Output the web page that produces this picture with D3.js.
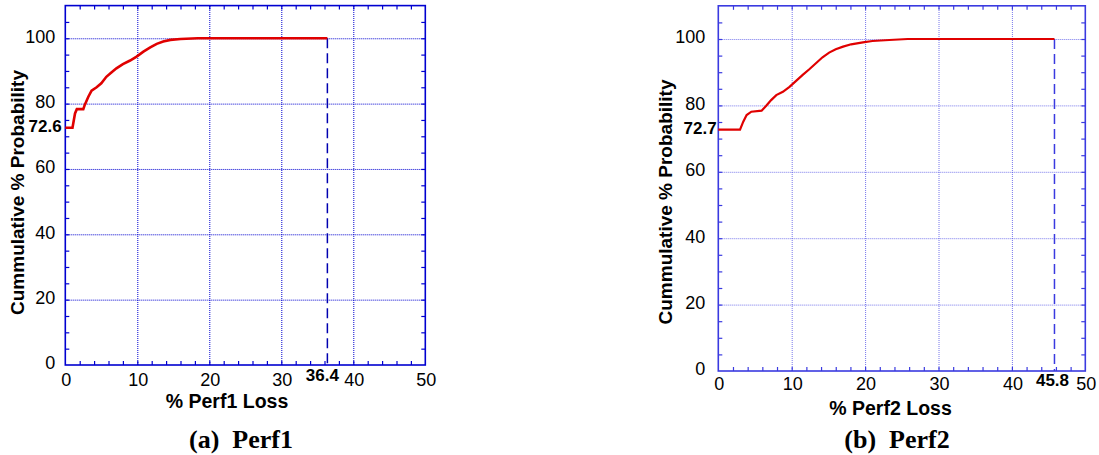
<!DOCTYPE html>
<html>
<head>
<meta charset="utf-8">
<script src="https://cdn.jsdelivr.net/npm/d3@7"></script>
<style>
  html, body { margin: 0; padding: 0; background: #fff; }
  svg { display: block; }
  text { font-family: "Liberation Sans", Arial, sans-serif; fill: #000; }
</style>
</head>
<body>
<svg id="chart" width="1099" height="455"></svg>
<script>
// ---- Data ----
const perf1Loss = [0, 1.0, 1.35, 1.6, 2.5, 2.7, 3.2, 3.65, 4.35, 5.0, 5.7, 6.4, 7.1, 8.0, 9.0, 9.9, 10.85, 11.8, 12.7, 13.6, 14.6, 16.0, 18.4, 36.4];
const perf1Prob = [72.6, 72.6, 77.0, 78.3, 78.3, 79.6, 82.1, 84.0, 85.0, 86.2, 88.2, 89.5, 90.8, 92.1, 93.2, 94.4, 95.9, 97.2, 98.3, 99.0, 99.5, 99.8, 100, 100];
const perf2Loss = [0, 2.96, 3.4, 3.86, 4.5, 5.9, 6.5, 7.2, 7.9, 8.8, 9.7, 10.6, 11.5, 12.4, 13.3, 14.2, 15.1, 16.0, 17.0, 18.1, 19.7, 21.0, 23.3, 25.8, 45.8];
const perf2Prob = [72.7, 72.7, 75.1, 77.1, 78.1, 78.4, 79.8, 81.6, 83.1, 84.1, 85.6, 87.4, 89.2, 90.9, 92.7, 94.5, 95.9, 96.9, 97.7, 98.4, 99.0, 99.4, 99.7, 100, 100];
const xTicks = [0, 10, 20, 30, 40, 50];
const yTicks = [0, 20, 40, 60, 80, 100];
const xMinorTicks = d3.range(2, 50, 2);
const yMinorTicks = d3.range(5, 110, 5);
const startValues = [72.6, 72.7];
const maxLoss = [36.4, 45.8];
const xTitles = ["% Perf1 Loss", "% Perf2 Loss"];
const yTitle = "Cummulative % Probability";
const captions = ["(a)  Perf1", "(b)  Perf2"];

const svg = d3.select("#chart");

const panels = [
  { loss: perf1Loss, prob: perf1Prob, start: startValues[0], max: maxLoss[0],
    xTitle: xTitles[0], caption: captions[0],
    x0: 65.3, x1: 425.3, y0: 365, y1: 5.6,
    axisColor: "#0000d0", gridColor: "#0000d0", gridOpacity: 1, dashColor: "#0000b0",
    lineW: 2.6, yLabGap: 10, startGap: 3.6, xLabBase: 385.5, maxLabBase: 381, maxLabShift: -5,
    xTitleX: 227, xTitleBase: 408, yTitleX: 17.5, yTitleY: 192.5, capX: 241, capBase: 448 },
  { loss: perf2Loss, prob: perf2Prob, start: startValues[1], max: maxLoss[1],
    xTitle: xTitles[1], caption: captions[1],
    x0: 718.3, x1: 1085.3, y0: 371, y1: 5.8,
    axisColor: "#3a3ae0", gridColor: "#4a4ae6", gridOpacity: 0.75, dashColor: "#3a3ae0",
    lineW: 2.2, yLabGap: 13, startGap: 1.6, xLabBase: 390, maxLabBase: 386, maxLabShift: -2,
    xTitleX: 890.5, xTitleBase: 415, yTitleX: 665, yTitleY: 202, capX: 897, capBase: 448 }
];

panels.forEach(p => {
  const x = d3.scaleLinear().domain([0, 50]).range([p.x0, p.x1]);
  const y = d3.scaleLinear().domain([0, 110]).range([p.y0, p.y1]);
  const g = svg.append("g");
  const W = p.x1 - p.x0, H = p.y0 - p.y1;

  // grid lines (dotted)
  const gx = g.append("g").attr("transform", `translate(0,${p.y0})`)
    .call(d3.axisBottom(x).tickValues(xTicks.slice(1, -1)).tickSize(-H).tickFormat(""));
  const gy = g.append("g").attr("transform", `translate(${p.x0},0)`)
    .call(d3.axisLeft(y).tickValues(yTicks.slice(1)).tickSize(-W).tickFormat(""));
  [gx, gy].forEach(a => {
    a.select(".domain").remove();
    a.selectAll("line").attr("stroke", p.gridColor).attr("stroke-width", 1)
      .attr("stroke-dasharray", "1,1").attr("opacity", p.gridOpacity);
  });

  // minor inward ticks on all four sides
  const tickStyle = a => {
    a.select(".domain").remove();
    a.selectAll("line").attr("stroke", p.axisColor).attr("stroke-width", 1.2);
  };
  g.append("g").attr("transform", `translate(0,${p.y0})`)
    .call(d3.axisBottom(x).tickValues(xMinorTicks).tickSize(-4).tickFormat("")).call(tickStyle);
  g.append("g").attr("transform", `translate(0,${p.y1})`)
    .call(d3.axisTop(x).tickValues(xMinorTicks).tickSize(-4).tickFormat("")).call(tickStyle);
  g.append("g").attr("transform", `translate(${p.x0},0)`)
    .call(d3.axisLeft(y).tickValues(yMinorTicks).tickSize(-4).tickFormat("")).call(tickStyle);
  g.append("g").attr("transform", `translate(${p.x1},0)`)
    .call(d3.axisRight(y).tickValues(yMinorTicks).tickSize(-4).tickFormat("")).call(tickStyle);

  // frame
  g.append("rect").attr("x", p.x0).attr("y", p.y1).attr("width", W).attr("height", H)
    .attr("fill", "none").attr("stroke", p.axisColor).attr("stroke-width", 1.6);

  // dashed drop line at max loss
  g.append("line")
    .attr("x1", x(p.max)).attr("x2", x(p.max))
    .attr("y1", y(100)).attr("y2", y(0))
    .attr("stroke", p.dashColor).attr("stroke-width", 1.5)
    .attr("stroke-dasharray", "10,5");

  // CDF curve
  const pts = p.loss.map((v, i) => [v, p.prob[i]]);
  g.append("path").datum(pts)
    .attr("fill", "none").attr("stroke", "#e00000").attr("stroke-width", p.lineW)
    .attr("stroke-linejoin", "miter")
    .attr("d", d3.line().x(d => x(d[0])).y(d => y(d[1])).curve(d3.curveLinear));

  // tick labels
  g.selectAll(".ylab").data(yTicks).join("text")
    .attr("x", p.x0 - p.yLabGap).attr("y", d => y(d) - 2).attr("dy", "0.36em")
    .attr("text-anchor", "end").attr("font-size", 18).text(d => d);
  g.selectAll(".xlab").data(xTicks).join("text")
    .attr("x", d => x(d) + 1).attr("y", p.xLabBase)
    .attr("text-anchor", "middle").attr("font-size", 18).text(d => d);

  // special bold labels
  g.append("text").attr("x", p.x0 - p.startGap).attr("y", y(p.start) - 2).attr("dy", "0.36em")
    .attr("text-anchor", "end").attr("font-size", 17).attr("font-weight", "bold")
    .text(d3.format(".1f")(p.start));
  g.append("text").attr("x", x(p.max) + p.maxLabShift).attr("y", p.maxLabBase)
    .attr("text-anchor", "middle").attr("font-size", 17).attr("font-weight", "bold")
    .text(d3.format(".1f")(p.max));

  // axis titles
  g.append("text").attr("x", p.xTitleX).attr("y", p.xTitleBase)
    .attr("text-anchor", "middle").attr("font-size", 19.5).attr("font-weight", "bold")
    .text(p.xTitle);
  g.append("text")
    .attr("transform", `translate(${p.yTitleX},${p.yTitleY}) rotate(-90)`)
    .attr("dy", "0.35em")
    .attr("text-anchor", "middle").attr("font-size", 19).attr("font-weight", "bold")
    .text(yTitle);

  // caption
  g.append("text").attr("x", p.capX).attr("y", p.capBase)
    .attr("text-anchor", "middle").attr("font-size", 26).attr("font-weight", "bold")
    .style("font-family", '"Liberation Serif", "Times New Roman", serif')
    .attr("xml:space", "preserve").style("white-space", "pre")
    .text(p.caption);
});
</script>
</body>
</html>
